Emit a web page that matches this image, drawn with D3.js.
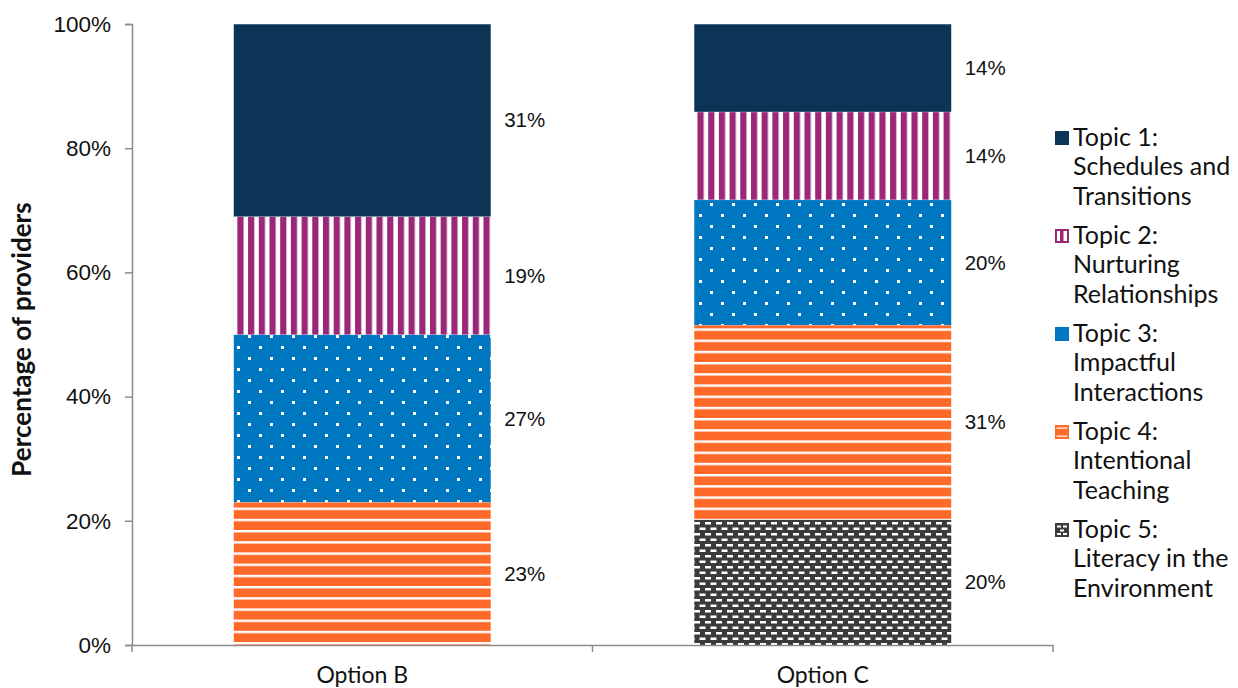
<!DOCTYPE html>
<html>
<head>
<meta charset="utf-8">
<script src="https://cdn.jsdelivr.net/npm/d3@7"></script>
<style>
  html, body { margin: 0; padding: 0; background: #fff; }
  svg { display: block; }
</style>
</head>
<body>
<svg id="chart" width="1238" height="688"></svg>
<script>
// Categories and series (percent of providers in each option)
const options = ["Option B", "Option C"];
const topicKeys = ["t5", "t4", "t3", "t2", "t1"]; // stacking order, bottom to top
const topicNames = {
  t1: ["Topic 1:", "Schedules and", "Transitions"],
  t2: ["Topic 2:", "Nurturing", "Relationships"],
  t3: ["Topic 3:", "Impactful", "Interactions"],
  t4: ["Topic 4:", "Intentional", "Teaching"],
  t5: ["Topic 5:", "Literacy in the", "Environment"]
};
const topic1Values = [31, 14];
const topic2Values = [19, 14];
const topic3Values = [27, 20];
const topic4Values = [23, 31];
const topic5Values = [0, 20];
const yTickLabels = ["0%", "20%", "40%", "60%", "80%", "100%"];

const rows = options.map((o, i) => ({
  option: o,
  t1: topic1Values[i], t2: topic2Values[i], t3: topic3Values[i],
  t4: topic4Values[i], t5: topic5Values[i]
}));

const svg = d3.select("#chart");
const margin = { left: 132, right: 185, top: 24, bottom: 43 };
const W = 1238, H = 688;
const plotW = W - margin.left - margin.right;
const plotH = H - margin.top - margin.bottom;

// Scales
const x = d3.scaleBand().domain(options).range([0, plotW]).paddingInner(0.442).paddingOuter(0.221);
const y = d3.scaleLinear().domain([0, 1]).range([plotH, 0]);

// Fill patterns
const defs = svg.append("defs");
const barLeft = margin.left + x(options[0]);
// Topic 2: vertical stripes
const p2 = defs.append("pattern").attr("id", "pat-t2").attr("patternUnits", "userSpaceOnUse")
  .attr("width", 10.7).attr("height", 10).attr("x", barLeft);
p2.append("rect").attr("width", 10.7).attr("height", 10).attr("fill", "#fff");
p2.append("rect").attr("width", 6.2).attr("height", 10).attr("fill", "#9B2778");
// Topic 3: staggered white dots
const p3 = defs.append("pattern").attr("id", "pat-t3").attr("patternUnits", "userSpaceOnUse")
  .attr("width", 22).attr("height", 22).attr("x", 5).attr("y", 2);
p3.append("rect").attr("width", 22).attr("height", 22).attr("fill", "#0077C1");
p3.append("rect").attr("x", 1).attr("y", 1).attr("width", 3).attr("height", 3).attr("fill", "#fff");
p3.append("rect").attr("x", 12).attr("y", 12).attr("width", 3).attr("height", 3).attr("fill", "#fff");
// Topic 4: horizontal white lines
const p4 = defs.append("pattern").attr("id", "pat-t4").attr("patternUnits", "userSpaceOnUse")
  .attr("width", 10).attr("height", 11.2).attr("y", 2);
p4.append("rect").attr("width", 10).attr("height", 11.2).attr("fill", "#FF6A2B");
p4.append("rect").attr("y", 0).attr("width", 10).attr("height", 2.4).attr("fill", "#fff");
// Topic 5: brick of white dashes on dark grey
const p5 = defs.append("pattern").attr("id", "pat-t5").attr("patternUnits", "userSpaceOnUse")
  .attr("width", 11).attr("height", 11).attr("y", 2);
p5.append("rect").attr("width", 11).attr("height", 11).attr("fill", "#3B3B3B");
p5.append("rect").attr("x", 1).attr("y", 1).attr("width", 6).attr("height", 2.5).attr("fill", "#fff");
p5.append("rect").attr("x", 6.5).attr("y", 6.5).attr("width", 6).attr("height", 2.5).attr("fill", "#fff");
p5.append("rect").attr("x", -4.5).attr("y", 6.5).attr("width", 6).attr("height", 2.5).attr("fill", "#fff");

const fills = { t1: "#0B3457", t2: "url(#pat-t2)", t3: "url(#pat-t3)", t4: "url(#pat-t4)", t5: "url(#pat-t5)" };
const legendFills = { t1: "#0B3457", t2: "#9B2778", t3: "#0077C1", t4: "#FF6A2B", t5: "#3B3B3B" };

// 100% stacked layout
const stack = d3.stack().keys(topicKeys).offset(d3.stackOffsetExpand);
const series = stack(rows);

const g = svg.append("g").attr("transform", `translate(${margin.left},${margin.top})`);

// Bars
const layer = g.selectAll("g.layer").data(series).join("g").attr("class", "layer")
  .attr("fill", d => fills[d.key]);
layer.selectAll("rect").data(d => d.filter(s => s[1] - s[0] > 0)).join("rect")
  .attr("x", d => x(d.data.option))
  .attr("width", x.bandwidth())
  .attr("y", d => y(d[1]))
  .attr("height", d => y(d[0]) - y(d[1]));

// Segment dividers
layer.selectAll("line").data(d => d.filter(s => s[1] - s[0] > 0)).join("line")
  .attr("x1", d => x(d.data.option)).attr("x2", d => x(d.data.option) + x.bandwidth())
  .attr("y1", d => y(d[1])).attr("y2", d => y(d[1]))
  .attr("stroke", "#ffffff").attr("stroke-opacity", 0.5).attr("stroke-width", 1);

// Value labels
series.forEach(s => {
  s.forEach(d => {
    const v = d.data[s.key];
    if (!v) return;
    g.append("text")
      .attr("x", x(d.data.option) + x.bandwidth() + 34)
      .attr("y", (y(d[0]) + y(d[1])) / 2)
      .attr("dy", "0.35em")
      .attr("text-anchor", "middle")
      .attr("font-family", "Liberation Sans, Arial, sans-serif")
      .attr("font-size", 20.5)
      .attr("fill", "#111")
      .text(v + "%");
  });
});

// Y axis
const yAxis = g.append("g")
  .call(d3.axisLeft(y).tickValues([0, 0.2, 0.4, 0.6, 0.8, 1])
    .tickFormat((d, i) => yTickLabels[i]).tickSize(7).tickSizeOuter(7).tickPadding(14));
yAxis.selectAll("path, line").attr("stroke", "#8c8c8c").attr("stroke-width", 1.5);
yAxis.selectAll("text").attr("font-family", "Liberation Sans, Arial, sans-serif")
  .attr("font-size", 22.5).attr("fill", "#111");

// X axis
const xAxis = g.append("g").attr("transform", `translate(0,${plotH})`)
  .call(d3.axisBottom(x).tickSize(0).tickPadding(22));
xAxis.select("path").attr("stroke", "#8c8c8c").attr("stroke-width", 1.5);
xAxis.selectAll("text").attr("font-family", "Lato, sans-serif").attr("font-size", 23).attr("fill", "#111");
// boundary ticks between categories
const bounds = d3.range(options.length + 1).map(i => i * plotW / options.length);
xAxis.selectAll("line.bound").data(bounds).join("line").attr("class", "bound")
  .attr("x1", d => d).attr("x2", d => d).attr("y1", 0).attr("y2", 7)
  .attr("stroke", "#8c8c8c").attr("stroke-width", 1.5);

// Y axis title
svg.append("text")
  .attr("transform", `translate(31,${margin.top + plotH / 2 + 5}) rotate(-90)`)
  .attr("text-anchor", "middle")
  .attr("font-family", "Lato, sans-serif")
  .attr("font-weight", "bold")
  .attr("font-size", 26)
  .attr("fill", "#111")
  .text("Percentage of providers");

// Legend
const legendOrder = ["t1", "t2", "t3", "t4", "t5"];
const lg = svg.append("g").attr("transform", "translate(1055,137)");
legendOrder.forEach((k, i) => {
  const item = lg.append("g").attr("transform", `translate(0,${i * 98})`);
  const sq = item.append("g").attr("transform", "translate(0,-6)");
  sq.append("rect").attr("width", 14).attr("height", 14).attr("fill", legendFills[k]);
  if (k === "t2") {
    sq.append("rect").attr("x", 2).attr("y", 2).attr("width", 10).attr("height", 10).attr("fill", "#fff");
    sq.append("rect").attr("x", 5).attr("y", 2).attr("width", 3.5).attr("height", 10).attr("fill", "#9B2778");
  } else if (k === "t4") {
    sq.append("rect").attr("x", 1.5).attr("y", 2.5).attr("width", 11).attr("height", 1.2).attr("fill", "#fff");
    sq.append("rect").attr("x", 1.5).attr("y", 10.5).attr("width", 11).attr("height", 1.2).attr("fill", "#fff");
  } else if (k === "t5") {
    sq.append("rect").attr("x", 2).attr("y", 2.5).attr("width", 4).attr("height", 2).attr("fill", "#fff");
    sq.append("rect").attr("x", 8).attr("y", 2.5).attr("width", 4).attr("height", 2).attr("fill", "#fff");
    sq.append("rect").attr("x", 5).attr("y", 6.5).attr("width", 4).attr("height", 2).attr("fill", "#fff");
    sq.append("rect").attr("x", 2).attr("y", 10).attr("width", 4).attr("height", 2).attr("fill", "#fff");
    sq.append("rect").attr("x", 8).attr("y", 10).attr("width", 4).attr("height", 2).attr("fill", "#fff");
  }
  topicNames[k].forEach((line, j) => {
    item.append("text")
      .attr("x", 18).attr("y", j * 29.7)
      .attr("dy", "0.35em")
      .attr("font-family", "Lato, sans-serif")
      .attr("font-size", 25)
      .attr("fill", "#111")
      .text(line);
  });
});
</script>
</body>
</html>
